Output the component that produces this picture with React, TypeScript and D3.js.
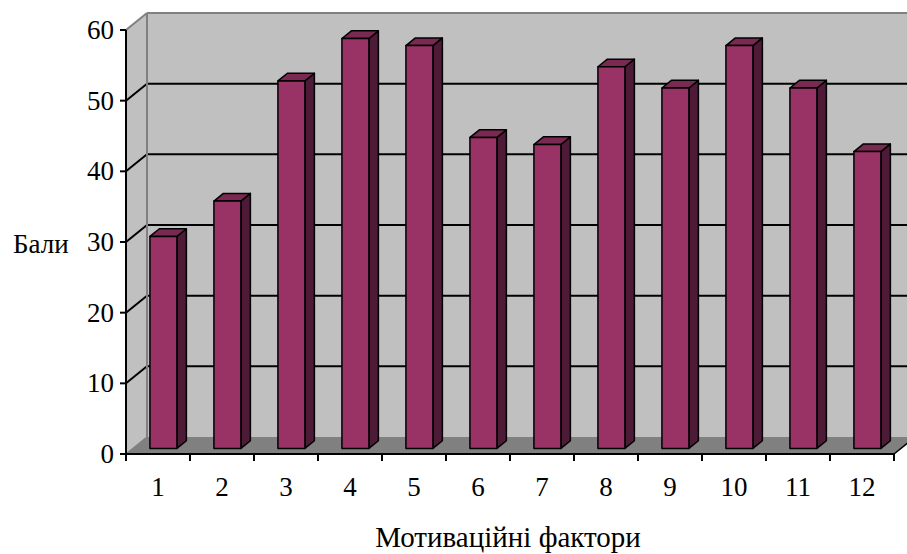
import React from "react";
import * as d3 from "d3";

const categories = ["1", "2", "3", "4", "5", "6", "7", "8", "9", "10", "11", "12"];
const values = [30, 35, 52, 58, 57, 44, 43, 54, 51, 57, 51, 42];
const yTicks = [0, 10, 20, 30, 40, 50, 60];
const yLabel = "Бали";
const xLabel = "Мотиваційні фактори";

const W = 907, H = 554;
const DX = 21, DY = -17; // full depth offset
const T_FRONT = 0.33, T_DEPTH = 0.45;
const FONT = "'Liberation Serif', 'Times New Roman', serif";

export default function App() {
  const x = d3.scaleBand<string>().domain(categories).range([126, 894]);
  const y = d3.scaleLinear().domain([0, 60]).range([454, 30]);
  const x0 = 126, x1 = 894, yb = y(0), yt = y(60);

  const fdx = DX * T_FRONT, fdy = DY * T_FRONT;
  const bdx = DX * T_DEPTH, bdy = DY * T_DEPTH;
  const barW = 27;

  return (
    <svg width={W} height={H} style={{ position: "absolute", left: 0, top: 0, background: "#fff" }}>
      <rect x={x0 + DX} y={yt + DY} width={W} height={yb - yt} fill="#c0c0c0" />
      <polygon points={`${x0},${yt} ${x0 + DX},${yt + DY} ${x0 + DX},${yb + DY} ${x0},${yb}`} fill="#c0c0c0" />
      <polygon points={`${x0},${yb} ${x0 + DX},${yb + DY} ${x1 + DX},${yb + DY} ${x1},${yb}`} fill="#808080" />
      {yTicks.filter(t => t > 0 && t < 60).map(t => (
        <g key={t}>
          <line x1={x0} y1={y(t)} x2={x0 + DX} y2={y(t) + DY} stroke="#000" strokeWidth={2} />
          <line x1={x0 + DX} y1={y(t) + DY} x2={W} y2={y(t) + DY} stroke="#000" strokeWidth={2} />
        </g>
      ))}
      <line x1={x0} y1={yt} x2={x0 + DX} y2={yt + DY} stroke="#808080" strokeWidth={2} />
      <line x1={x0 + DX} y1={yt + DY} x2={W} y2={yt + DY} stroke="#808080" strokeWidth={2} />
      <line x1={x0 + DX} y1={yt + DY} x2={x0 + DX} y2={yb + DY} stroke="#808080" strokeWidth={2} />
      <line x1={x0} y1={yb} x2={x0 + DX} y2={yb + DY} stroke="#808080" strokeWidth={1.5} />
      <line x1={x1} y1={yb} x2={x1 + DX} y2={yb + DY} stroke="#000" strokeWidth={1.5} />
      {categories.map((c, i) => {
        const fx = (x(c) as number) + 17 + fdx;
        const fyb = yb + fdy;
        const fyt = y(values[i]) + fdy;
        const fx2 = fx + barW;
        return (
          <g key={c} stroke="#000" strokeWidth={1.5} strokeLinejoin="round">
            <polygon points={`${fx2},${fyt} ${fx2 + bdx},${fyt + bdy} ${fx2 + bdx},${fyb + bdy} ${fx2},${fyb}`} fill="#4d1a37" />
            <polygon points={`${fx},${fyt} ${fx + bdx},${fyt + bdy} ${fx2 + bdx},${fyt + bdy} ${fx2},${fyt}`} fill="#7a2952" />
            <rect x={fx} y={fyt} width={barW} height={fyb - fyt} fill="#993366" />
          </g>
        );
      })}
      <line x1={x0} y1={yt} x2={x0} y2={yb} stroke="#000" strokeWidth={2} />
      <line x1={x0} y1={yb} x2={x1} y2={yb} stroke="#000" strokeWidth={2} />
      {yTicks.map(t => (
        <g key={t}>
          <line x1={x0 - 6} y1={y(t)} x2={x0} y2={y(t)} stroke="#000" strokeWidth={2} />
          <text x={x0 - 12} y={y(t) + 9} textAnchor="end" fontFamily={FONT} fontSize={27}>{t}</text>
        </g>
      ))}
      {categories.map((c, i) => (
        <g key={c}>
          <line x1={(x(c) as number) + x.bandwidth()} y1={yb} x2={(x(c) as number) + x.bandwidth()} y2={yb + 7} stroke="#000" strokeWidth={2} />
          {i === 0 && <line x1={x0} y1={yb} x2={x0} y2={yb + 7} stroke="#000" strokeWidth={2} />}
          <text x={(x(c) as number) + x.bandwidth() / 2} y={496} textAnchor="middle" fontFamily={FONT} fontSize={27}>{c}</text>
        </g>
      ))}
      <text x={13} y={253} fontFamily={FONT} fontSize={27}>{yLabel}</text>
      <text x={508} y={547} textAnchor="middle" fontFamily={FONT} fontSize={29}>{xLabel}</text>
    </svg>
  );
}
